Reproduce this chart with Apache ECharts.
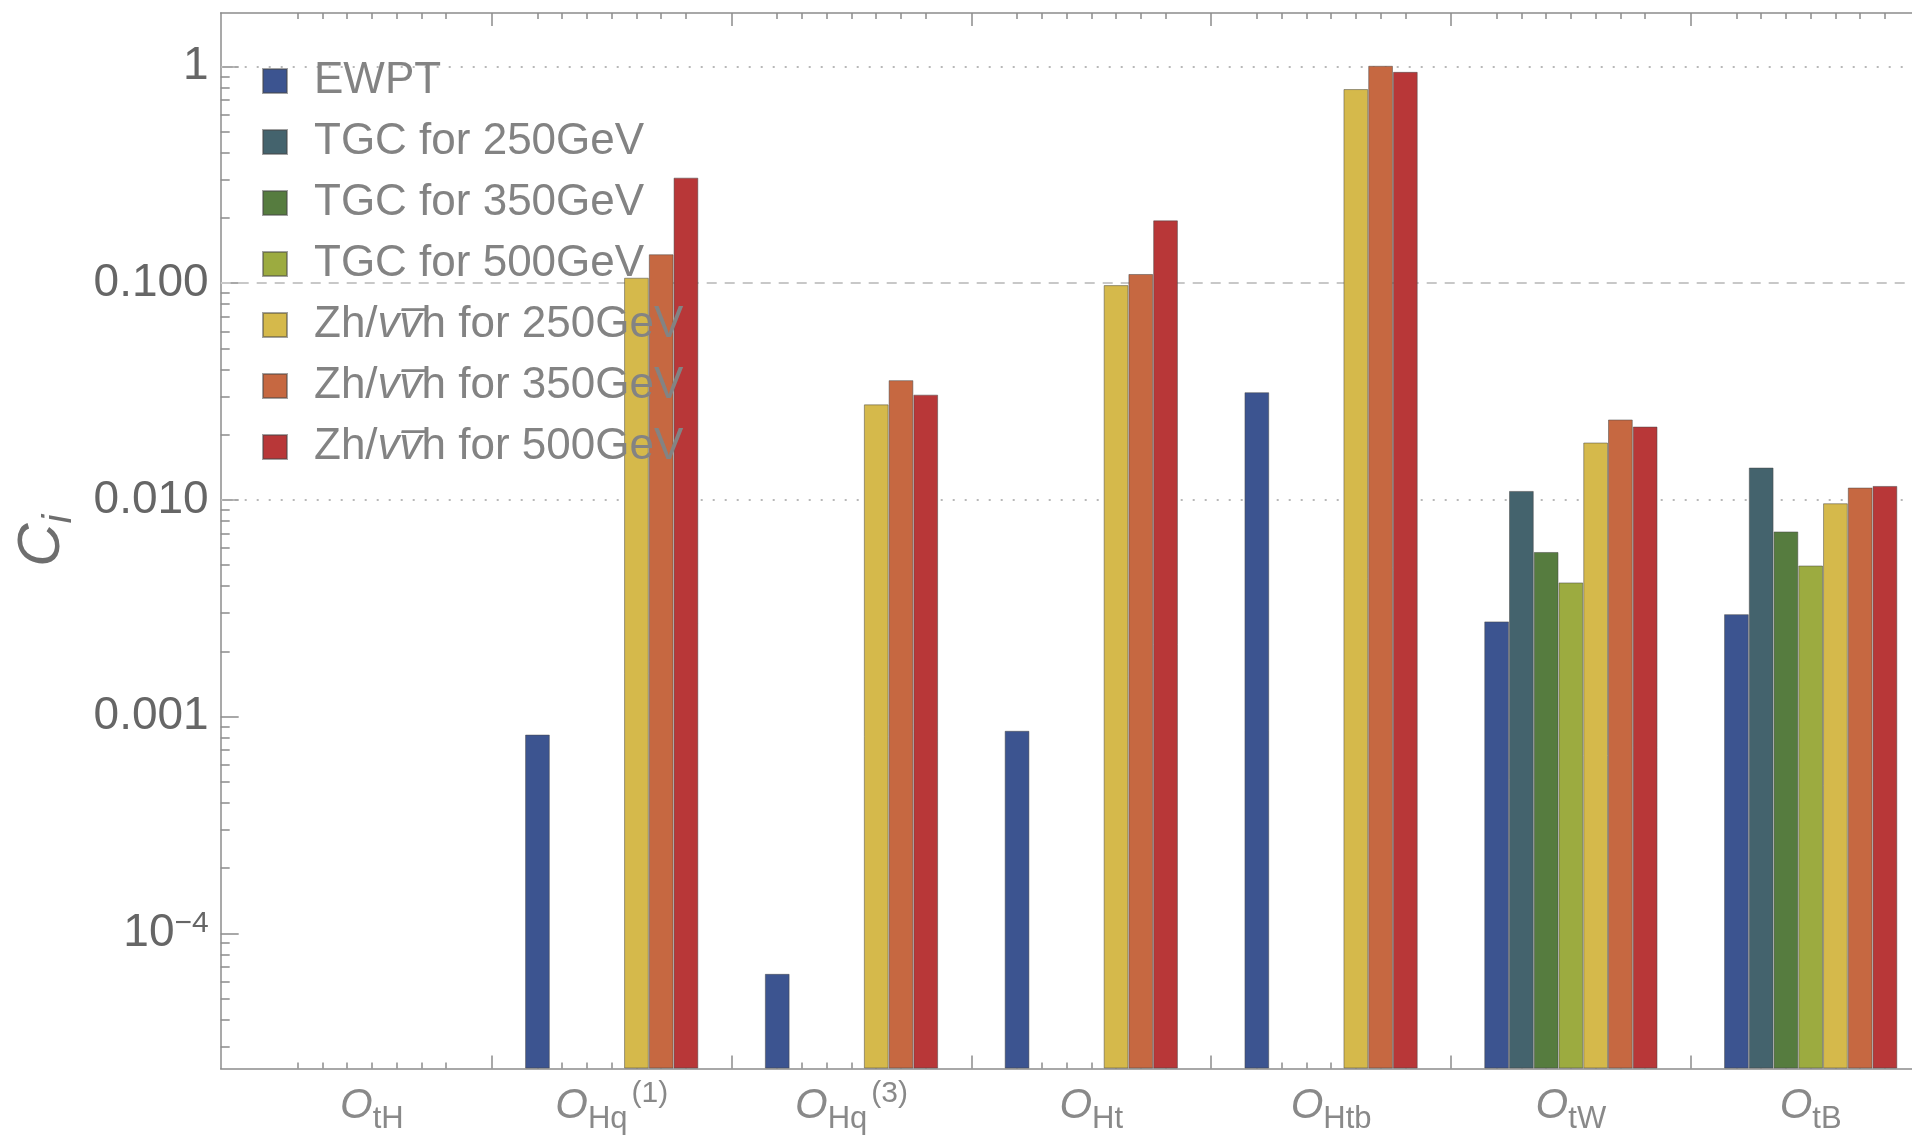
<!DOCTYPE html>
<html><head><meta charset="utf-8">
<script src="https://cdn.jsdelivr.net/npm/echarts@6/dist/echarts.min.js"></script>
<style>html,body{margin:0;padding:0;background:#fff;}#c{width:1912px;height:1135px;}</style>
</head><body><div id="c"></div>
<script>
// ---- data ----
const categories = ['O_tH', 'O_Hq(1)', 'O_Hq(3)', 'O_Ht', 'O_Htb', 'O_tW', 'O_tB'];
const categoryLabels = ['{o|O}{s|tH}', '{o|O}{s|Hq}{p|(1)}', '{o|O}{s|Hq}{p|(3)}', '{o|O}{s|Ht}', '{o|O}{s|Htb}', '{o|O}{s|tW}', '{o|O}{s|tB}'];
const seriesNames = ['EWPT', 'TGC for 250GeV', 'TGC for 350GeV', 'TGC for 500GeV',
  'Zh/vv\u0305h for 250GeV', 'Zh/vv\u0305h for 350GeV', 'Zh/vv\u0305h for 500GeV'];
const legendLabels = ['EWPT', 'TGC for 250GeV', 'TGC for 350GeV', 'TGC for 500GeV',
  '{n|Zh/}{it|vv\u0305}{n|h for 250GeV}', '{n|Zh/}{it|vv\u0305}{n|h for 350GeV}', '{n|Zh/}{it|vv\u0305}{n|h for 500GeV}'];
const ewpt   = [null, 8.26e-4, 6.5e-5, 8.6e-4, 0.0314, 0.00275, 0.00297];
const tgc250 = [null, null, null, null, null, 0.0110, 0.0141];
const tgc350 = [null, null, null, null, null, 0.00575, 0.00715];
const tgc500 = [null, null, null, null, null, 0.00416, 0.00498];
const zh250  = [null, 0.106, 0.0276, 0.0980, 0.787, 0.0184, 0.00965];
const zh350  = [null, 0.136, 0.0357, 0.1103, 1.008, 0.0235, 0.0114];
const zh500  = [null, 0.307, 0.0306, 0.195, 0.945, 0.0218, 0.0116];
const seriesValues = [ewpt, tgc250, tgc350, tgc500, zh250, zh350, zh500];
const yTickValues = [1e-4, 1e-3, 1e-2, 0.1, 1];
const yTickLabels = ['{b|10}{e|\u22124}', '0.001', '0.010', '0.100', '1'];
const gridLineKinds = ['dotted', 'dashed', 'dotted', 'dashed', 'dotted'];

// ---- style ----
const colors = ['#3c5490', '#44636d', '#567c3f', '#9cab40', '#d5b94b', '#c66841', '#b83738'];
const FONT = 'Liberation Sans';
const axisGray = '#8c8c8c';
const yMin = 2.377e-5, yMax = 1.766;
const xMin = -0.6305, xMax = 6.4225;
const slotW = 0.1032; // bar slot width in group units
const xMajor = [0.5, 1.5, 2.5, 3.5, 4.5, 5.5];
const xMinor = [];
categories.forEach((c, g) => { for (let s = -3; s <= 3; s++) xMinor.push(g + s * slotW); });
const yMinor = [];
for (let d = -5; d <= 0; d++) for (let m = 2; m <= 9; m++) { const v = m * Math.pow(10, d); if (v > yMin && v < yMax) yMinor.push(v); }

const xAxisBase = { type: 'value', min: xMin, max: xMax, splitLine: { show: false } };
function xAx(pos, ticks, len, line, labels) {
  return Object.assign({}, xAxisBase, {
    position: pos,
    axisLine: { show: line, onZero: false, lineStyle: { color: axisGray, width: 1.5 } },
    axisTick: { show: true, inside: true, length: len, customValues: ticks, lineStyle: { color: axisGray, width: 1.5 } },
    axisLabel: labels ? {
      show: true, customValues: categories.map((c, i) => i), margin: 10,
      formatter: v => categoryLabels[Math.round(v)],
      color: '#898989', fontFamily: FONT,
      rich: {
        o: { fontSize: 42, fontStyle: 'italic', fontFamily: FONT, color: '#898989', lineHeight: 56, verticalAlign: 'middle' },
        s: { fontSize: 31, fontFamily: FONT, color: '#898989', lineHeight: 56, verticalAlign: 'bottom' },
        p: { fontSize: 30, fontFamily: FONT, color: '#898989', lineHeight: 56, verticalAlign: 'top', padding: [0, 0, 0, 4] }
      }
    } : { show: false }
  });
}

const series = seriesValues.map((vals, k) => {
  const s = {
    name: seriesNames[k], type: 'bar', xAxisIndex: 0, yAxisIndex: 0,
    data: vals.map((v, i) => [i, v]),
    barWidth: 24.75, barGap: '0%', z: 2,
    itemStyle: { color: colors[k], borderColor: 'rgba(70,70,70,0.5)', borderWidth: 1 },
    animation: false, silent: true
  };
  if (k === 0) {
    s.markLine = {
      silent: true, symbol: 'none', z: 1, animation: false,
      label: { show: false },
      data: yTickValues.map((v, i) => ({
        yAxis: v,
        lineStyle: gridLineKinds[i] === 'dotted'
          ? { type: [2, 10], color: '#b8b8b8', width: 2 }
          : { type: [10, 8], color: '#c8c8c8', width: 2 }
      }))
    };
  }
  return s;
});

const option = {
  backgroundColor: '#fff',
  animation: false,
  grid: { left: 220.7, right: 0, top: 13, bottom: 66.5, containLabel: false },
  legend: {
    orient: 'vertical', left: 262, top: 56, padding: 0,
    itemWidth: 24, itemHeight: 24, itemGap: 11, icon: 'rect',
    data: seriesNames,
    formatter: name => legendLabels[seriesNames.indexOf(name)],
    textStyle: {
      fontSize: 44, fontFamily: FONT, color: '#838383', lineHeight: 50, padding: [0, 0, 0, 22],
      rich: {
        n: { fontSize: 44, fontFamily: FONT, color: '#838383', lineHeight: 50 },
        it: { fontSize: 44, fontFamily: FONT, fontStyle: 'italic', color: '#838383', lineHeight: 50 }
      }
    }
  },
  xAxis: [
    xAx('bottom', xMajor, 13, true, true),
    xAx('bottom', xMinor, 6, false, false),
    xAx('top', xMajor, 13, true, false),
    xAx('top', xMinor, 6, false, false)
  ],
  yAxis: [
    {
      type: 'log', min: yMin, max: yMax, startValue: yMin, position: 'left',
      axisLine: { show: true, onZero: false, lineStyle: { color: axisGray, width: 1.5 } },
      axisTick: { show: true, inside: true, length: 18, customValues: yTickValues, lineStyle: { color: axisGray, width: 1.5 } },
      axisLabel: {
        show: true, customValues: yTickValues, margin: 12,
        formatter: v => yTickLabels[Math.round(Math.log10(v)) + 4],
        fontSize: 46, fontFamily: FONT, color: '#666',
        rich: {
          b: { fontSize: 46, fontFamily: FONT, color: '#666', lineHeight: 50, verticalAlign: 'middle' },
          e: { fontSize: 30, fontFamily: FONT, color: '#666', lineHeight: 50, verticalAlign: 'top' }
        }
      },
      splitLine: { show: false },
      name: '{c|C}{i|i}', nameLocation: 'middle', nameRotate: 90, nameGap: 141,
      nameTextStyle: {
        rich: {
          c: { fontSize: 60, fontStyle: 'italic', fontFamily: FONT, color: '#6e6e6e', lineHeight: 74, verticalAlign: 'middle' },
          i: { fontSize: 40, fontStyle: 'italic', fontFamily: FONT, color: '#6e6e6e', lineHeight: 74, verticalAlign: 'bottom' }
        }
      }
    },
    {
      type: 'log', min: yMin, max: yMax, position: 'left',
      axisLine: { show: false, onZero: false },
      axisTick: { show: true, inside: true, length: 9, customValues: yMinor, lineStyle: { color: axisGray, width: 1.5 } },
      axisLabel: { show: false }, splitLine: { show: false }
    }
  ],
  series: series
};
const chart = echarts.init(document.getElementById('c'), null, { renderer: 'canvas' });
chart.setOption(option);
</script></body></html>
